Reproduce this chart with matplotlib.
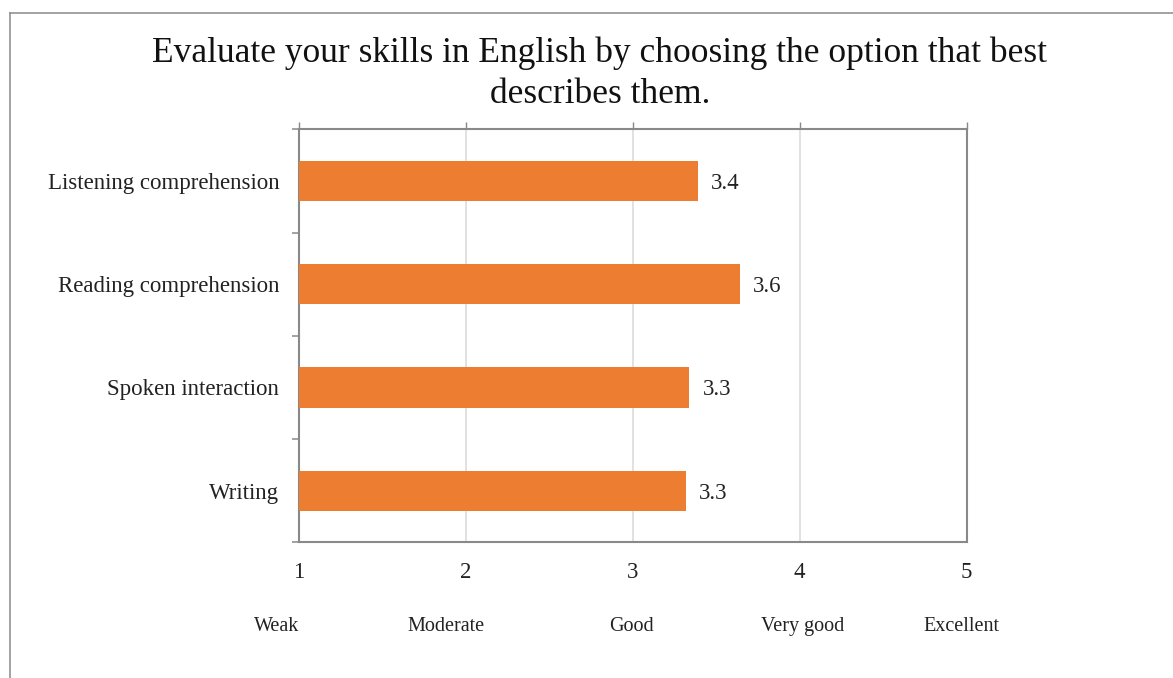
import matplotlib
matplotlib.use("Agg")
import matplotlib.pyplot as plt
from matplotlib.lines import Line2D

# --- Data ---
skills = ["Listening comprehension", "Reading comprehension", "Spoken interaction", "Writing"]
scores = [3.39, 3.64, 3.34, 3.32]
scale_ticks = [1, 2, 3, 4, 5]
scale_names = ["Weak", "Moderate", "Good", "Very good", "Excellent"]
scale_name_x = [0.87, 1.88, 2.99, 4.02, 4.97]

TITLE = "Evaluate your skills in English by choosing the option that best\ndescribes them."
BAR_COLOR = "#ED7D31"
SPINE_COLOR = "#898989"
GRID_COLOR = "#d9d9d9"

plt.rcParams['font.family'] = ['Liberation Serif', 'DejaVu Serif']

W, H = 1173, 678
fig = plt.figure(figsize=(W / 100, H / 100), dpi=100)
ax = fig.add_axes([298.7 / W, 1 - 542.3 / H, (966.7 - 298.7) / W, (542.3 - 129.3) / H])

ypos = list(range(len(skills)))
bars = ax.barh(ypos, [s - 1 for s in scores], left=1, height=0.39, color=BAR_COLOR, zorder=3)
value_texts = ax.bar_label(bars, labels=[f"{s:.1f}" for s in scores], padding=9.5,
                           fontsize=16.5, color="#222222")
for t in value_texts:
    t.set_va("center_baseline")

ax.set_xlim(1, 5)
ax.set_ylim(len(skills) - 0.5, -0.5)
ax.set_xticks(scale_ticks)
ax.set_xticklabels([str(t) for t in scale_ticks], fontsize=16.5, color="#222222")
ax.set_yticks(ypos)
ax.set_yticklabels(skills, fontsize=16.5, color="#222222")
ax.set_yticks([y - 0.5 for y in range(len(skills) + 1)], minor=True)

# x: no bottom marks, short marks poking above the top spine
ax.tick_params(axis="x", which="major", bottom=False, labelbottom=True, top=True, labeltop=False,
               length=5, width=1.0, color=SPINE_COLOR, pad=9)
ax.tick_params(axis="y", which="major", length=0, pad=14)
ax.tick_params(axis="y", which="minor", length=5, width=1.1, color=SPINE_COLOR, direction="out")

ax.grid(axis="x", color=GRID_COLOR, linewidth=1.1, zorder=0)
for sp in ax.spines.values():
    sp.set_color(SPINE_COLOR)
    sp.set_linewidth(1.5)

# rating words under the axis
for x, name in zip(scale_name_x, scale_names):
    ax.text(x, 1 - (624 - 129.3) / (542.3 - 129.3), name, transform=ax.get_xaxis_transform(),
            ha="center", va="center_baseline", fontsize=14.5, color="#222222")

fig.text(600 / W, 1 - 74 / H, TITLE, ha="center", va="center", fontsize=25.5,
         linespacing=1.32, color="#111111")

# outer frame (top and left edges visible)
fig.add_artist(Line2D([9.5 / W, 1.0], [1 - 13 / H, 1 - 13 / H], transform=fig.transFigure,
                      color=SPINE_COLOR, linewidth=1.1))
fig.add_artist(Line2D([9.5 / W, 9.5 / W], [0.0, 1 - 13 / H], transform=fig.transFigure,
                      color=SPINE_COLOR, linewidth=1.1))

fig.savefig("out.png", dpi=100, facecolor="white")
